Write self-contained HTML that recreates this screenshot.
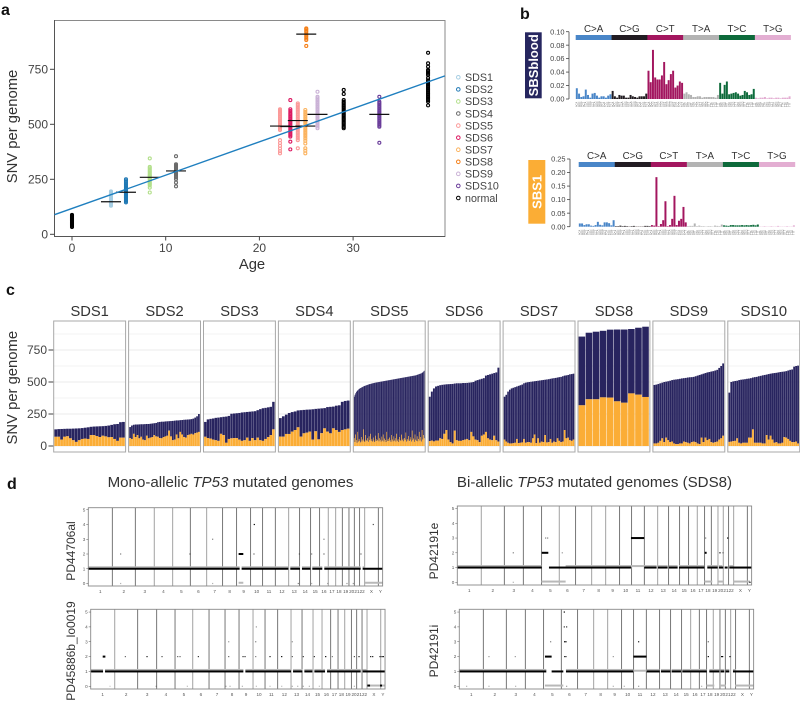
<!DOCTYPE html>
<html lang="en">
<head>
<meta charset="utf-8">
<title>Mutational burden in SDS genomes</title>
<style>
html,body{margin:0;padding:0;background:#fff;}
svg{display:block;font-family:"Liberation Sans",Arial,sans-serif;}
</style>
</head>
<body>
<svg id="fig" xmlns="http://www.w3.org/2000/svg" width="800" height="709" viewBox="0 0 800 709">
  <defs><filter id="soft" x="-2%" y="-2%" width="104%" height="104%"><feGaussianBlur stdDeviation="0.3"/></filter></defs>
  <text x="1" y="15" font-size="16" font-weight="bold" fill="#111">a</text>
  <text x="520" y="19" font-size="16" font-weight="bold" fill="#111">b</text>
  <text x="6" y="295" font-size="16" font-weight="bold" fill="#111">c</text>
  <text x="7" y="489" font-size="16" font-weight="bold" fill="#111">d</text>
  <g id="pa"></g>
  <g id="pb" filter="url(#soft)"></g>
  <g id="pc"></g>
  <g id="pd" filter="url(#soft)">
    <text x="230.5" y="487" font-size="15.1" text-anchor="middle" fill="#333">Mono-allelic <tspan font-style="italic">TP53</tspan> mutated genomes</text>
    <text x="594.5" y="487" font-size="15.1" text-anchor="middle" fill="#333">Bi-allelic <tspan font-style="italic">TP53</tspan> mutated genomes (SDS8)</text>
  </g>
</svg>
<script>
/* ---------- panel a data ---------- */
const scatterSeries = ['SDS1','SDS2','SDS3','SDS4','SDS5','SDS6','SDS5','SDS7','SDS8','SDS9','normal','SDS10','normal','normal'];
const scatterAges = [4.16,5.76,8.3,11.1,22.2,23.3,24.1,24.9,25.0,26.2,29.0,32.8,38.0,0];
const scatterValues = [
  [130,134,138,142,146,150,152,155,158,160,164,168,172,176,180,184,188,192,195],
  [145,150,155,160,165,168,172,176,180,184,188,192,196,200,205,210,215,220,226,232,238,244,250],
  [190,212,222,228,232,238,244,250,254,258,262,266,270,276,282,288,294,300,306,345],
  [218,235,250,258,264,270,274,278,282,286,290,294,298,302,306,310,314,318,355],
  [368,378,390,402,415,428,474,480,486,492,498,504,510,516,522,528,534,540,546,552,558,563,568],
  [386,421,444,450,456,462,468,474,480,486,492,498,504,510,516,522,528,534,540,546,552,560,568,610],
  [391,428,436,444,452,460,468,476,484,492,500,508,516,524,532,540,548,556,564,572,580,588,595],
  [368,380,391,413,425,435,444,452,460,468,476,484,492,500,508,516,524,532,540,548,556,565],
  [856,883,890,898,905,912,920,926,932,936],
  [482,490,498,506,514,522,530,538,546,554,562,570,578,586,594,602,610,618,625,648],
  [482,488,494,500,506,512,518,524,530,536,542,548,554,560,566,572,578,584,590,596,602,610,638,656],
  [416,489,495,501,507,513,519,525,531,537,543,549,555,561,567,573,579,585,591,597,603,625],
  [586,603,610,616,622,628,634,640,646,652,658,664,670,676,682,688,694,700,710,724,730,736,742,747,762,777,825],
  [33,38,42,46,50,54,58,62,65,68,71,74,77,80,84,88]
];
const meanValues = [148,191,259,288,492,490,517,492,910,545,null,545,null,null];
const trendAges = [-1.87,39.8];
const trendValues = [89,720];
const ageTicks = [0,10,20,30];
const snvTicks = [0,250,500,750];
const legendNames = ['SDS1','SDS2','SDS3','SDS4','SDS5','SDS6','SDS7','SDS8','SDS9','SDS10','normal'];
const legendColors = ['#a6cee3','#1f78b4','#b2df8a','#6b6b6b','#fb9a99','#dc1a62','#fbb35f','#f57f17','#cab2d6','#6a3d9a','#000000'];

/* ---------- panel b data ---------- */
const subTypes = ['C>A','C>G','C>T','T>A','T>C','T>G'];
const subColors = ['#4a86c8','#231f20','#a3195f','#b3b3b3','#0e6b3a','#e3aed2'];
const leftBases = ['A','C','G','T'];
const sbsBloodValues = [
  [.016,.008,.003,.004,.014,.006,.002,.008,.009,.005,.002,.004,.004,.002,.005,.007],
  [.012,.004,.002,.006,.005,.005,.002,.002,.006,.004,.003,.002,.004,.004,.004,.008],
  [.042,.025,.073,.032,.029,.029,.035,.055,.022,.028,.037,.042,.017,.02,.026,.024],
  [.008,.01,.007,.006,.003,.003,.004,.004,.002,.003,.003,.003,.003,.003,.002,.006],
  [.024,.008,.021,.026,.007,.008,.009,.01,.008,.005,.006,.012,.01,.006,.007,.015],
  [.002,.001,.002,.002,.003,.001,.002,.002,.001,.002,.002,.001,.002,.002,.002,.004]
];
const sbs1Values = [
  [.012,.012,.006,.009,.009,.004,.003,.006,.018,.007,.005,.016,.016,.013,.005,.024],
  [.002,.002,.004,.002,.003,.002,.001,.002,.003,.001,.001,.001,.001,.003,.003,.002],
  [.006,.004,.183,.002,.01,.024,.094,.002,.006,.029,.114,.006,.022,.029,.073,.016],
  [.002,.003,.003,.012,.002,.004,.002,.002,.001,.002,.002,.001,.004,.003,.002,.008],
  [.005,.004,.003,.006,.006,.005,.005,.005,.006,.005,.006,.005,.006,.007,.005,.008],
  [.001,.001,.002,.001,.001,.002,.001,.001,.003,.001,.001,.001,.002,.001,.001,.005]
];
const sbsBloodTicks = ['0.00','0.02','0.04','0.06','0.08','0.10'];
const sbs1Ticks = ['0.00','0.05','0.10','0.15','0.20','0.25'];

/* ---------- panel c data ---------- */
const facetNames = ['SDS1','SDS2','SDS3','SDS4','SDS5','SDS6','SDS7','SDS8','SDS9','SDS10'];
const facetTotals = [
  [130,132,133,134,135,135,136,137,138,140,143,146,150,152,153,154,155,157,160,165,170,172,186,188],
  [148,160,166,168,168,169,170,170,171,172,172,174,176,178,180,186,188,190,190,192,193,194,195,196,198,200,200,202,203,205,206,207,208,210,214,222,232,250],
  [188,208,212,215,220,222,225,228,230,235,252,254,256,258,262,264,266,268,270,272,280,288,295,298,302,306,345],
  [218,232,245,258,265,270,278,280,282,284,285,287,290,292,294,296,304,306,308,315,318,345,352,355],
  [385,400,412,422,430,436,441,446,450,453,
   456,459,462,465,468,470,472,474,476,478,
   480,482,484,485,487,488,490,491,492,494,
   495,496,497,498,499,500,501,502,503,504,
   505,506,507,508,509,510,511,512,513,514,
   515,516,517,518,519,520,521,522,523,524,
   525,526,527,528,529,530,531,532,533,534,
   535,536,537,538,539,540,541,542,543,544,
   545,546,547,548,549,550,551,552,554,556,
   558,560,562,564,566,568,572,576,582,588],
  [385,425,450,465,470,475,478,480,482,483,484,485,488,490,490,490,492,492,493,495,497,500,510,515,520,525,530,550,555,560,565,570,575,612],
  [385,400,425,440,450,455,460,465,470,475,480,490,495,498,500,502,504,506,508,510,512,514,516,518,520,522,525,528,530,532,535,538,540,545,550,552,555,560,562,565],
  [855,885,893,900,909,910,910,914,924,932],
  [477,480,485,490,495,500,503,506,510,515,518,520,522,525,528,530,532,535,537,538,540,545,550,555,560,565,570,575,578,582,585,590,595,610,625,645],
  [417,500,505,508,510,515,518,520,522,525,527,530,535,538,540,545,548,552,555,558,562,565,568,570,572,575,578,580,582,585,590,595,598,620,625,628]
];
const facetOrange = [
  [72,72,50,72,76,60,45,32,45,55,58,55,85,85,78,70,80,75,68,70,55,40,65,65],
  [62,55,95,70,85,60,72,50,45,80,60,65,70,85,75,72,62,60,70,75,80,120,75,45,50,90,60,110,90,70,65,85,90,95,90,100,105,110],
  [72,62,58,50,45,40,95,85,25,55,60,62,62,50,40,45,65,40,62,45,65,45,40,55,70,85,130],
  [73,73,94,94,112,125,146,73,99,104,112,50,115,52,100,138,112,99,138,125,110,125,130,135],
  [60,30,90,45,25,110,35,55,40,28,
   70,35,50,130,40,30,85,45,38,60,
   32,75,45,95,40,55,35,65,42,30,
   80,38,52,44,100,36,60,48,34,72,
   42,90,35,58,46,30,110,40,55,38,
   66,44,32,85,50,36,75,42,60,34,
   95,40,52,30,70,46,38,88,44,56,
   36,62,48,105,34,54,42,78,38,50,
   68,35,120,45,58,32,90,48,40,75,
   36,55,110,42,70,34,125,50,85,60],
  [38,42,36,42,42,60,55,95,125,50,30,20,120,45,40,40,45,50,55,45,110,75,50,45,30,80,90,110,60,50,45,80,45,35],
  [50,35,25,20,20,22,25,55,22,25,28,55,25,30,30,25,60,90,22,60,25,35,30,85,28,30,55,25,35,30,60,40,30,35,125,60,65,45,40,50],
  [318,365,365,380,378,349,338,411,401,383],
  [20,20,25,40,60,30,65,45,30,35,20,15,15,20,20,35,30,25,20,30,35,30,20,15,65,30,65,45,55,30,25,30,35,50,60,80],
  [32,35,38,40,60,25,20,25,25,25,65,65,130,25,25,25,25,20,20,85,50,80,50,25,30,20,20,25,70,65,55,40,30,30,35,20]
];
const facetGrid = [0,125,250,375,500,625,750,875];

/* ---------- panel d data (genome positions in bins of about 3.5 Mb) ---------- */
const chromNames = ['1','2','3','4','5','6','7','8','9','10','11','12','13','14','15','16','17','18','19','20','21','22','X','Y'];
const chromBins = [72,69,57,55,53,49,48,42,42,36,38,40,33,33,27,26,22,20,20,16,16,15,41,13];
const cnTicks = [0,1,2,3,4,5];
const pd44706Black = [[0,454,1],[460,600,1],[606,635,1],[641,666,1],[672,702,1],[708,817,1],[823,883,1],[451,465,2]];
const pd44706Gray = [[0,454,1.1],[460,600,1.1],[606,635,1.1],[641,666,1.1],[672,702,1.1],[708,817,1.1],[823,830,1.1],[830,883,0.05],[451,465,0.05]];
const pd44706Dots = [[97,2,.5],[97,0,.3],[305,2,.6],[373,3,.5],[373,0,.3],[498,4,1],[497,2,.6],[670,2,.5],[670,0,.3],[707,3,.5],[707,2,.6],[630,0,.5],[633,2,.4],[818,2,.6],[855,4,.7],[718,0,.3],[776,0,.4],[795,0,.4]];
const pd44706Dark = [1,1,0,0,1,0,1,1,1,1,1,0,1,1,1,0,0,1,1,1,1,0,1];
const pd45886Black = [[0,37,1],[43,458,1],[464,601,1],[607,635,1],[641,665,1],[671,703,1],[709,810,1],[816,883,1],[36,44,2],[830,838,0.05],[868,874,0.05]];
const pd45886Gray = [[0,37,1.1],[43,458,1.1],[464,601,1.1],[607,635,1.1],[641,665,1.1],[671,703,1.1],[709,810,1.1],[816,830,1.1],[830,883,0.05]];
const pd45886Dots = [[104,2,.6],[169,2,.9],[214,2,.7],[261,2,.6],[268,2,.6],[323,2,.8],[414,2,.6],[457,2,.8],[463,2,.8],[495,2,.5],[538,2,.9],[573,2,1],[605,2,.6],[638,2,.7],[671,2,.8],[705,2,1],[725,2,.5],[791,2,.7],[805,2,.9],[840,2,.9],[846,2,.9],[868,2,.9],[874,2,.9],[878,2,.9],[414,3,.4],[495,3,.5],[605,3,.4],[497,4,.4],[58,0,.2],[196,0,.25],[290,0,.25],[406,0,.3],[418,0,.3],[455,0,.3],[497,0,.25],[538,0,.25],[573,0,.25],[605,0,.3],[621,0,.3],[638,0,.3],[656,0,.3],[686,0,.25],[791,0,.3]];
const pd45886Dark = [0,1,1,1,0,1,1,1,0,1,1,0,1,0,0,1,1,0,1,1,1,0,0];
const pd42191eBlack = [[0,253,1],[275,521,1],[561,598,1],[602,631,1],[635,661,1],[665,741,1],[750,781,1],[785,798,1],[802,811,1],[816,884,1],[253,273,2],[521,561,3],[742,748,2]];
const pd42191eGray = [[0,253,1.1],[325,598,1.1],[602,631,1.1],[635,661,1.1],[665,741,1.1],[750,781,1.1],[785,795,1.1],[816,828,1.1],[253,325,0.05],[742,765,0.05],[783,800,0.05],[828,878,0.05]];
const pd42191eDots = [[168,2,.5],[315,2,.4],[265,3,.5],[271,3,.5],[745,3,.5],[788,2,1],[797,2,.5],[811,3,1],[878,0,1],[168,0,.3]];
const pd42191eDark = [0,1,1,1,0,1,0,0,1,1,1,0,1,1,1,0,1,1,0,0,1,0,1];
const pd42191iBlack = [[0,261,1],[277,312,1],[320,522,1],[562,601,1],[605,633,1],[637,665,1],[669,742,1],[750,780,1],[784,795,1],[799,810,1],[821,884,1],[257,277,2],[522,562,2]];
const pd42191iGray = [[0,261,1.1],[320,522,1.1],[522,562,1.05],[562,601,1.1],[605,633,1.1],[637,665,1.1],[669,742,1.1],[750,780,1.1],[784,795,1.1],[799,810,1.1],[821,830,1.1],[257,312,0.05],[742,765,0.05],[782,800,0.05],[828,882,0.05]];
const pd42191iDots = [[315,5,1],[315,4,.8],[322,4,.8],[316,3,1],[320,3,1],[316,2,.8],[320,2,.8],[274,3,.5],[538,3,.9],[747,3,.6],[747,2,1],[787,2,1],[790,2,1],[812,2,1],[89,2,.4],[168,2,.4],[462,2,.4],[22,0,.3],[89,0,.3],[169,0,.3],[322,0,.4],[462,0,.3],[495,0,.3],[538,0,.4],[727,0,.3]];
const pd42191iDark = [1,1,1,1,1,1,0,0,1,1,1,1,1,1,0,1,1,0,1,1,0,1,1];

/* ---------- helpers ---------- */
const NS = 'http://www.w3.org/2000/svg';
function mk(parent, tag, attrs, txt) {
  const e = document.createElementNS(NS, tag);
  for (const k in attrs) e.setAttribute(k, attrs[k]);
  if (txt !== undefined) e.textContent = txt;
  parent.appendChild(e);
  return e;
}
const pa = document.getElementById('pa');
const pb = document.getElementById('pb');
const pc = document.getElementById('pc');
const pd = document.getElementById('pd');
let el;

/* ---------- panel a ---------- */
const ax = a => 72 + a * 9.37;
const ay = v => 234.3 - v * 0.22;
el = mk(pa, 'rect', {x:54.5, y:20.5, width:390.5, height:216, fill:'none', stroke:'#8a8a8a', 'stroke-width':1});


el = mk(pa, 'path', {d:'M54.5 20V236.5H445', fill:'none', stroke:'#555', 'stroke-width':1});


scatterValues.forEach((vals, i) => {
  const color = legendColors[legendNames.indexOf(scatterSeries[i])];
  vals.forEach(v => {
    el = mk(pa, 'circle', {cx:ax(scatterAges[i]), cy:ay(v), r:1.5, fill:'none', stroke:color, 'stroke-width':1.1});
    
    
  });
});
meanValues.forEach((m, i) => {
  if (m === null) return;
  el = mk(pa, 'line', {x1:ax(scatterAges[i]) - 10, x2:ax(scatterAges[i]) + 10, y1:ay(m), y2:ay(m), stroke:'#111', 'stroke-width':1.2});
  
  
});
el = mk(pa, 'line', {x1:ax(trendAges[0]), y1:ay(trendValues[0]), x2:ax(trendAges[1]), y2:ay(trendValues[1]), stroke:'#1f7fbf', 'stroke-width':1.4});


snvTicks.forEach(t => {
  el = mk(pa, 'line', {x1:50, x2:54.5, y1:ay(t), y2:ay(t), stroke:'#444', 'stroke-width':1});
  
  
  el = mk(pa, 'text', {x:48, y:ay(t) + 4.2, 'font-size':12, 'text-anchor':'end', fill:'#444'}, t);
  
  
});
ageTicks.forEach(t => {
  el = mk(pa, 'line', {x1:ax(t), x2:ax(t), y1:236.5, y2:240.5, stroke:'#444', 'stroke-width':1});
  
  
  el = mk(pa, 'text', {x:ax(t), y:252, 'font-size':12, 'text-anchor':'middle', fill:'#444'}, t);
  
  
});
el = mk(pa, 'text', {x:252, y:269, 'font-size':14.8, 'text-anchor':'middle', fill:'#333'}, 'Age');


el = mk(pa, 'text', {transform:'translate(17,126.5) rotate(-90)', 'font-size':14.8, 'text-anchor':'middle', fill:'#333'}, 'SNV per genome');


legendNames.forEach((n, i) => {
  const y = 77.3 + i * 12.07;
  el = mk(pa, 'circle', {cx:458.3, cy:y, r:1.8, fill:'none', stroke:legendColors[i], 'stroke-width':1});
  
  
  el = mk(pa, 'text', {x:465, y:y + 3.8, 'font-size':10.7, fill:'#444'}, n);
  
  
});

/* ---------- panel b ---------- */
function drawSignature(cfg) {
  const band = cfg.w / 6;
  const step = band / 16;
  const sy = v => cfg.y0 - (v / cfg.max) * (cfg.y0 - cfg.yTop);
  el = mk(pb, 'rect', {x:cfg.bx, y:cfg.by, width:cfg.bw, height:cfg.bh, fill:cfg.bc});
  
  
  el = mk(pb, 'text', {transform:'translate(' + (cfg.bx + cfg.bw / 2 + 4.6) + ',' + (cfg.by + cfg.bh / 2) + ') rotate(-90)', 'font-size':13, 'font-weight':'bold', 'text-anchor':'middle', fill:'#fff'}, cfg.title);
  
  
  el = mk(pb, 'line', {x1:cfg.ax, x2:cfg.ax, y1:sy(0), y2:sy(cfg.max), stroke:'#444', 'stroke-width':0.8});
  
  
  cfg.ticks.forEach(t => {
    el = mk(pb, 'line', {x1:cfg.ax - 3, x2:cfg.ax, y1:sy(+t), y2:sy(+t), stroke:'#444', 'stroke-width':0.8});
    
    
    el = mk(pb, 'text', {x:cfg.ax - 4.5, y:sy(+t) + 2.6, 'font-size':7.4, 'text-anchor':'end', fill:'#444'}, t);
    
    
  });
  subTypes.forEach((s, i) => {
    const left = cfg.x + i * band;
    el = mk(pb, 'rect', {x:left, y:cfg.stripY, width:band + 0.2, height:5, fill:subColors[i]});
    
    
    el = mk(pb, 'text', {x:left + band / 2, y:cfg.stripY - 3, 'font-size':9.8, 'text-anchor':'middle', fill:'#333'}, s);
    
    
    cfg.values[i].forEach((v, j) => {
      const bx = left + j * step;
      el = mk(pb, 'rect', {x:bx + step * 0.06, y:sy(v), width:step * 0.88, height:sy(0) - sy(v), fill:subColors[i]});
      
      
      const ctx = leftBases[j >> 2] + s[0] + leftBases[j % 4];
      el = mk(pb, 'text', {transform:'translate(' + (bx + step * 0.85) + ',' + cfg.labelY + ') rotate(-90)', 'font-size':2.5, fill:'#666'}, ctx);
      
      
    });
  });
}
drawSignature({name:'sbsblood', title:'SBSblood', bx:525, by:32.3, bw:16.7, bh:66, bc:'#28265f', x:575.7, w:215, y0:99, yTop:31.7, max:0.10, ax:569, ticks:sbsBloodTicks, values:sbsBloodValues, stripY:35, labelY:107});
drawSignature({name:'sbs1', title:'SBS1', bx:528.3, by:160, bw:17, bh:63.7, bc:'#fbad36', x:578.7, w:216.3, y0:226.7, yTop:159, max:0.25, ax:570, ticks:sbs1Ticks, values:sbs1Values, stripY:162, labelY:235});

/* ---------- panel c ---------- */
const cy = v => 446 - v * 0.128;
el = mk(pc, 'text', {transform:'translate(17,387.7) rotate(-90)', 'font-size':14.8, 'text-anchor':'middle', fill:'#333'}, 'SNV per genome');


snvTicks.forEach(t => {
  el = mk(pc, 'line', {x1:48.5, x2:53.7, y1:cy(t), y2:cy(t), stroke:'#444', 'stroke-width':1});
  
  
  el = mk(pc, 'text', {x:47, y:cy(t) + 4.2, 'font-size':12, 'text-anchor':'end', fill:'#444'}, t);
  
  
});
facetNames.forEach((n, i) => {
  const left = 53.7 + i * 74.9;
  const width = 71.9;
  facetGrid.forEach(g => {
    if (g > 900) return;
    el = mk(pc, 'line', {x1:left, x2:left + width, y1:cy(g), y2:cy(g), stroke:'#efefef', 'stroke-width':g % 250 === 0 ? 1.2 : 0.7});
    
    
  });
  const totals = facetTotals[i];
  const orange = facetOrange[i];
  const inner = width - 1.2;
  const step = inner / totals.length;
  const bw = step > 1.5 ? step * 0.93 : step * 1.04;
  totals.forEach((t, j) => {
    const x = left + 0.6 + j * step;
    el = mk(pc, 'rect', {x:x, y:cy(t), width:bw, height:cy(orange[j]) - cy(t), fill:'#28245f'});
    
    
    el = mk(pc, 'rect', {x:x, y:cy(orange[j]), width:bw, height:cy(0) - cy(orange[j]), fill:'#fbad36'});
    
    
  });
  el = mk(pc, 'rect', {x:left, y:321, width:width, height:131, fill:'none', stroke:'#a8a8a8', 'stroke-width':1});
  
  
  el = mk(pc, 'text', {x:left + width / 2, y:316, 'font-size':14.7, 'text-anchor':'middle', fill:'#333'}, n);
  
  
});

/* ---------- panel d ---------- */
function drawCopy(cfg) {
  const gx = b => cfg.x + b / 3;
  const gy = c => cfg.y0 - c * cfg.unit;
  const fw = 883 / 3;
  el = mk(pd, 'text', {transform:'translate(' + cfg.titleX + ',' + cfg.titleY + ') rotate(-90)', 'font-size':12, 'text-anchor':'middle', fill:'#333'}, cfg.name);
  
  
  let pos = 0;
  chromBins.forEach((w, i) => {
    el = mk(pd, 'text', {x:gx(pos + w / 2), y:cfg.bottom + 7, 'font-size':4.6, 'text-anchor':'middle', fill:'#555'}, chromNames[i]);
    
    
    pos += w;
    if (i < chromBins.length - 1) {
      el = mk(pd, 'line', {x1:gx(pos), x2:gx(pos), y1:cfg.top, y2:cfg.bottom, stroke:cfg.dark[i] ? '#555' : '#aaa', 'stroke-width':cfg.dark[i] ? 0.8 : 1.1});
      
      
    }
  });
  cfg.gray.forEach(s => {
    el = mk(pd, 'rect', {x:gx(s[0]), y:gy(s[2]) - 1, width:(s[1] - s[0]) / 3, height:2, fill:'#b8b8b8'});
    
    
  });
  cfg.black.forEach(s => {
    el = mk(pd, 'rect', {x:gx(s[0]), y:gy(s[2]) - 1, width:(s[1] - s[0]) / 3, height:2, fill:'#000'});
    
    
  });
  cfg.dots.forEach(d => {
    el = mk(pd, 'rect', {x:gx(d[0]) - 0.6, y:gy(d[1]) - 0.6, width:1.2, height:1.2, fill:'#000', 'fill-opacity':d[2]});
    
    
  });
  el = mk(pd, 'rect', {x:cfg.x, y:cfg.top, width:fw, height:cfg.bottom - cfg.top, fill:'none', stroke:'#888', 'stroke-width':0.9});
  
  
  cnTicks.forEach(t => {
    el = mk(pd, 'line', {x1:cfg.x - 2, x2:cfg.x, y1:gy(t), y2:gy(t), stroke:'#555', 'stroke-width':0.5});
    
    
    el = mk(pd, 'text', {x:cfg.x - 3, y:gy(t) + 1.6, 'font-size':4.6, 'text-anchor':'end', fill:'#555'}, t);
    
    
  });
}
drawCopy({name:'PD44706al', x:88.3, y0:583.5, unit:14.75, top:507.7, bottom:586, titleX:75, titleY:551, black:pd44706Black, gray:pd44706Gray, dots:pd44706Dots, dark:pd44706Dark});
drawCopy({name:'PD45886b_lo0019', x:90.7, y0:686.3, unit:14.85, top:609.3, bottom:689, titleX:75, titleY:651, black:pd45886Black, gray:pd45886Gray, dots:pd45886Dots, dark:pd45886Dark});
drawCopy({name:'PD42191e', x:457.3, y0:582.3, unit:14.75, top:506, bottom:585, titleX:438, titleY:551, black:pd42191eBlack, gray:pd42191eGray, dots:pd42191eDots, dark:pd42191eDark});
drawCopy({name:'PD42191i', x:459.3, y0:686.3, unit:14.85, top:609.3, bottom:689, titleX:438, titleY:651, black:pd42191iBlack, gray:pd42191iGray, dots:pd42191iDots, dark:pd42191iDark});
</script>
</body>
</html>
